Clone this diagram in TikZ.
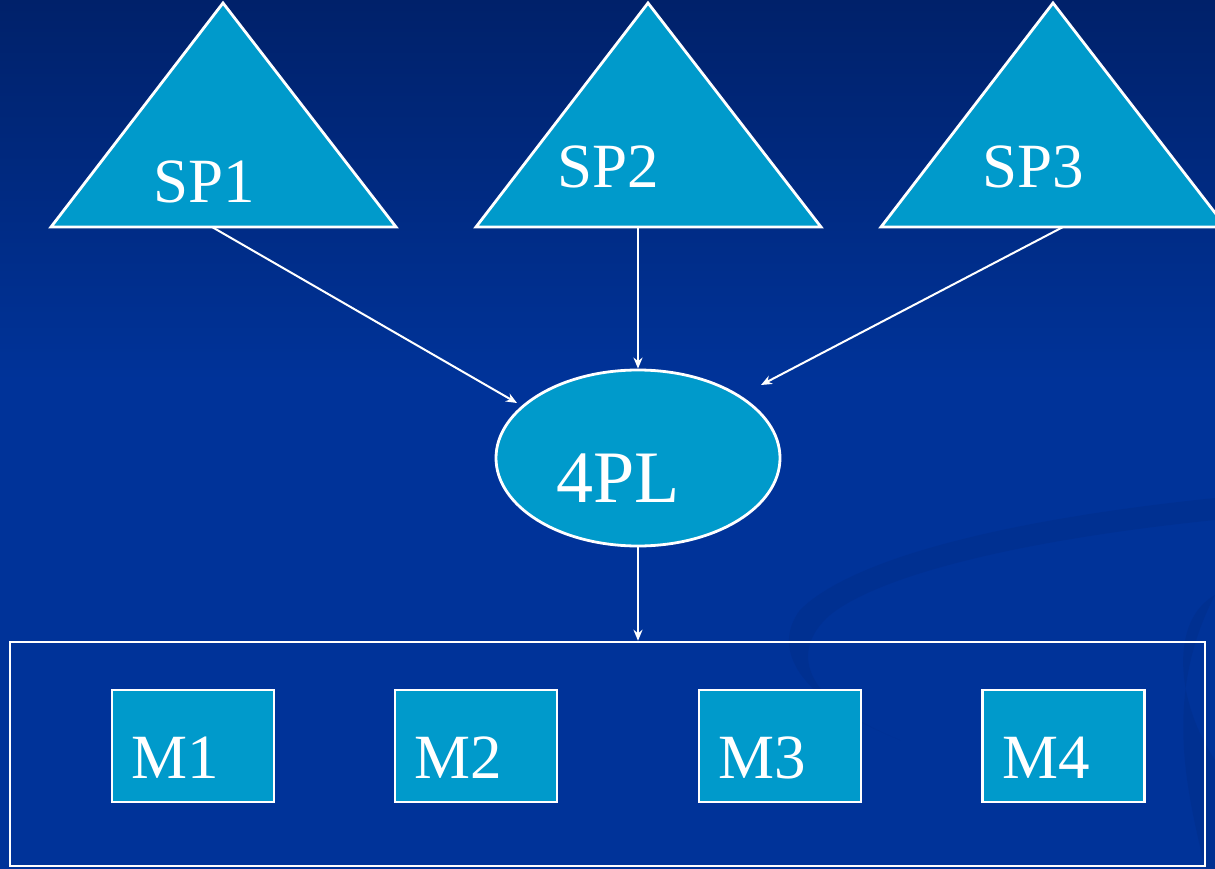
\documentclass[tikz,border=0pt]{standalone}
\usepackage{fontspec}
\setmainfont{Liberation Serif}
\usetikzlibrary{arrows.meta,shapes.geometric}
\definecolor{bgtop}{HTML}{00216A}
\definecolor{bgmain}{HTML}{003399}
\definecolor{swoosh}{HTML}{002E8C}
\definecolor{boxfill}{HTML}{009ACB}
\tikzset{
  shapefill/.style={fill=boxfill,draw=white,line width=2.8pt,line join=miter},
  conn/.style={draw=white,line width=2pt,-{Stealth[length=11pt,width=9pt]}},
  lbl/.style={text=white,inner sep=0pt,anchor=base west,font=\fontsize{63}{70}\selectfont},
  mbox/.style={shapefill,rectangle,minimum width=162pt,minimum height=112pt,inner sep=0pt},
}
\begin{document}
\begin{tikzpicture}[x=1pt,y=-1pt]
\useasboundingbox (0,0) rectangle (1215,869);
% background
\shade[top color=bgtop,bottom color=bgmain] (0,0) rectangle (1215,380);
\fill[bgmain] (0,379) rectangle (1215,869);
% faint swoosh decoration
\fill[swoosh,opacity=0.55] (1215,498) .. controls (1000,520) and (850,560) .. (800,610)
  .. controls (770,650) and (800,700) .. (900,740)
  .. controls (800,700) and (790,650) .. (830,615)
  .. controls (880,575) and (1020,540) .. (1215,520) -- cycle;
\fill[swoosh,opacity=0.55] (1215,595) .. controls (1170,620) and (1175,700) .. (1215,760) -- (1215,869)
  -- (1205,869) .. controls (1190,800) and (1160,700) .. (1215,595) -- cycle;
% triangles
\draw[shapefill] (223,3) -- (396,227) -- (51,227) -- cycle;
\draw[shapefill] (648,3) -- (821,227) -- (476,227) -- cycle;
\draw[shapefill] (1053,3) -- (1226,227) -- (881,227) -- cycle;
\coordinate (sp1) at (212,227);
\coordinate (sp2) at (638,227);
\coordinate (sp3) at (1063,227);
\node[lbl] (t1) at (153,203) {SP1};
\node[lbl] (t2) at (557,188) {SP2};
\node[lbl] (t3) at (982,188) {SP3};
% ellipse
\node[shapefill,ellipse,minimum width=284pt,minimum height=176pt,inner sep=0pt] (pl) at (638,458) {};
\node[lbl,font=\fontsize{74}{80}\selectfont] (plt) at (556,502) {4PL};
% big rectangle
\node[draw=white,line width=2.5pt,rectangle,minimum width=1195pt,minimum height=224pt,inner sep=0pt] (big) at (607.5,754) {};
% M boxes
\node[mbox] (m1) at (193,746) {};
\node[mbox] (m2) at (476,746) {};
\node[mbox] (m3) at (780,746) {};
\node[mbox] (m4) at (1063.5,746) {};
\node[lbl] (m1t) at (131,778) {M1};
\node[lbl] (m2t) at (414,778) {M2};
\node[lbl] (m3t) at (718,778) {M3};
\node[lbl] (m4t) at (1002,778) {M4};
% connectors
\coordinate (e1) at (517,403);
\coordinate (e3) at (761,385);
\draw[conn] (sp1) -- (e1);
\draw[conn] (sp2) -- (pl.north);
\draw[conn] (sp3) -- (e3);
\draw[conn] (pl.south) -- (big.north -| pl.south);
\end{tikzpicture}
\end{document}
